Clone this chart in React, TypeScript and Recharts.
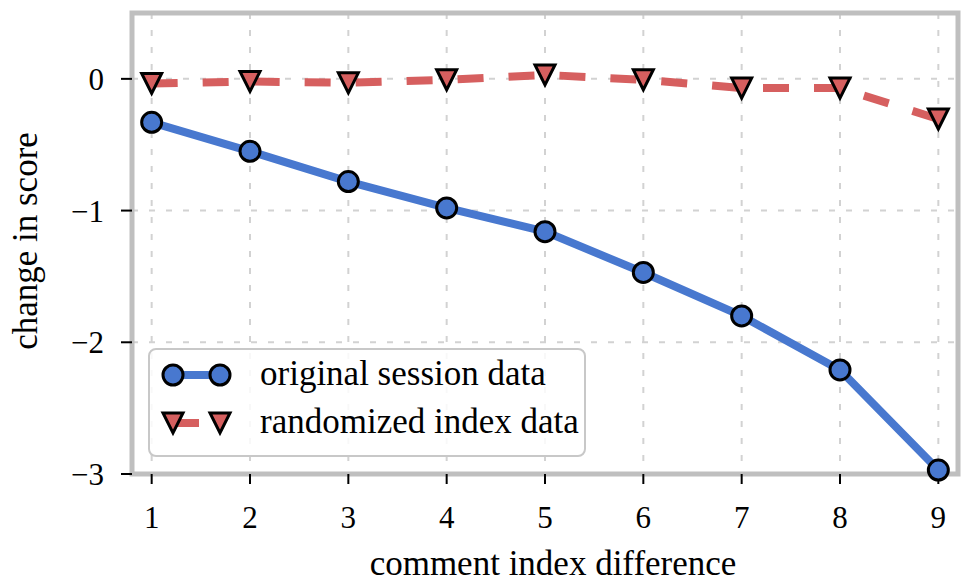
import { LineChart, Line, XAxis, YAxis, CartesianGrid, ReferenceArea } from "recharts";

const indexDiffs = [1, 2, 3, 4, 5, 6, 7, 8, 9];
const originalSession = [-0.33, -0.55, -0.78, -0.98, -1.16, -1.47, -1.8, -2.21, -2.97];
const randomizedIndex = [-0.035, -0.02, -0.03, -0.007, 0.03, -0.007, -0.07, -0.07, -0.305];
const xTicks = [1, 2, 3, 4, 5, 6, 7, 8, 9];
const yTicks = [-3, -2, -1, 0];

const seriesNames = ["original session data", "randomized index data"];

const BLUE = "#4878CF";
const RED = "#D65F5F";
const FONT = '"Liberation Serif", "Times New Roman", serif';

const rows = indexDiffs.map((x, i) => ({
    x,
    original: originalSession[i],
    randomized: randomizedIndex[i],
}));

const fmt = (v: number) => String(v).replace("-", "\u2212");

function CircleDot(props: any) {
    const { cx, cy, index } = props;
    if (cx == null || cy == null) return null;
    return <circle key={`c-${index}`} cx={cx} cy={cy} r={10} fill={BLUE} stroke="#000" strokeWidth={3} />;
}

function TriangleDot(props: any) {
    const { cx, cy, index } = props;
    if (cx == null || cy == null) return null;
    const s = 10;
    return (
        <polygon
            key={`t-${index}`}
            points={`${cx - s},${cy - s} ${cx + s},${cy - s} ${cx},${cy + s}`}
            fill={RED}
            stroke="#000"
            strokeWidth={3}
            strokeLinejoin="miter"
        />
    );
}

function LegendBox() {
    return (
        <div
            style={{
                position: "absolute",
                left: 148,
                top: 348,
                width: 438,
                height: 109,
                boxSizing: "border-box",
                border: "2.5px solid #c8c8c8",
                borderRadius: 8,
                background: "rgba(255,255,255,0.85)",
            }}
        >
            <svg width={438} height={109} style={{ position: "absolute", left: -2.5, top: -2.5 }}>
                <line x1={25} y1={27} x2={72} y2={27} stroke={BLUE} strokeWidth={8} />
                <circle cx={25} cy={27} r={10} fill={BLUE} stroke="#000" strokeWidth={3} />
                <circle cx={72} cy={27} r={10} fill={BLUE} stroke="#000" strokeWidth={3} />
                <line x1={25} y1={75} x2={72} y2={75} stroke={RED} strokeWidth={8} strokeDasharray="26 25" />
                <polygon points="15,65 35,65 25,85" fill={RED} stroke="#000" strokeWidth={3} />
                <polygon points="62,65 82,65 72,85" fill={RED} stroke="#000" strokeWidth={3} />
                <text x={112} y={37} fontFamily={FONT} fontSize={35} fill="#000">{seriesNames[0]}</text>
                <text x={112} y={85} fontFamily={FONT} fontSize={35} fill="#000">{seriesNames[1]}</text>
            </svg>
        </div>
    );
}

export default function App() {
    const tickStyle = { fontFamily: FONT, fontSize: 31, fill: "#000" };
    return (
        <div style={{ position: "absolute", left: 0, top: 0, width: 969, height: 586, background: "#fff" }}>
            <LineChart width={969} height={586} data={rows} margin={{ top: 0, right: 0, bottom: 0, left: 0 }}>
                <CartesianGrid
                    xAxisId="bottom"
                    yAxisId="left"
                    stroke="#d2d2d2"
                    strokeWidth={2}
                    strokeDasharray="6 11"
                />
                <XAxis
                    xAxisId="bottom"
                    dataKey="x"
                    type="number"
                    domain={[0.8, 9.2]}
                    ticks={xTicks}
                    height={112}
                    axisLine={false}
                    tickLine={{ stroke: "#000", strokeWidth: 2 }}
                    tickSize={10}
                    tickMargin={22}
                    tick={tickStyle}
                    interval={0}
                />
                <XAxis
                    xAxisId="top"
                    orientation="top"
                    dataKey="x"
                    type="number"
                    domain={[0.8, 9.2]}
                    ticks={xTicks}
                    height={13}
                    axisLine={false}
                    tickLine={{ stroke: "#000", strokeWidth: 2 }}
                    tickSize={7}
                    tick={false}
                    interval={0}
                />
                <YAxis
                    yAxisId="left"
                    type="number"
                    domain={[-3, 0.5]}
                    ticks={yTicks}
                    width={132}
                    axisLine={false}
                    tickLine={{ stroke: "#000", strokeWidth: 2 }}
                    tickSize={11}
                    tickMargin={17}
                    tick={tickStyle}
                    tickFormatter={fmt}
                    interval={0}
                />
                <YAxis
                    yAxisId="right"
                    orientation="right"
                    type="number"
                    domain={[-3, 0.5]}
                    ticks={yTicks}
                    width={11}
                    axisLine={false}
                    tickLine={{ stroke: "#000", strokeWidth: 2 }}
                    tickSize={7}
                    tick={false}
                    interval={0}
                />
                <Line
                    xAxisId="bottom"
                    yAxisId="left"
                    dataKey="original"
                    stroke={BLUE}
                    strokeWidth={8}
                    dot={CircleDot}
                    activeDot={false}
                    isAnimationActive={false}
                />
                <Line
                    xAxisId="bottom"
                    yAxisId="left"
                    dataKey="randomized"
                    stroke={RED}
                    strokeWidth={8}
                    strokeDasharray="26 25"
                    dot={TriangleDot}
                    activeDot={false}
                    isAnimationActive={false}
                />
                <ReferenceArea
                    xAxisId="bottom"
                    yAxisId="left"
                    x1={0.8}
                    x2={9.2}
                    y1={-3}
                    y2={0.5}
                    fill="none"
                    stroke="#bfbfbf"
                    strokeWidth={5}
                    ifOverflow="visible"
                />
                <text
                    x={553}
                    y={575}
                    textAnchor="middle"
                    fontFamily={FONT}
                    fontSize={35}
                    fill="#000"
                >
                    comment index difference
                </text>
                <text
                    x={37}
                    y={241}
                    transform="rotate(-90, 37, 241)"
                    textAnchor="middle"
                    fontFamily={FONT}
                    fontSize={35}
                    fill="#000"
                >
                    change in score
                </text>
            </LineChart>
            <LegendBox />
        </div>
    );
}
